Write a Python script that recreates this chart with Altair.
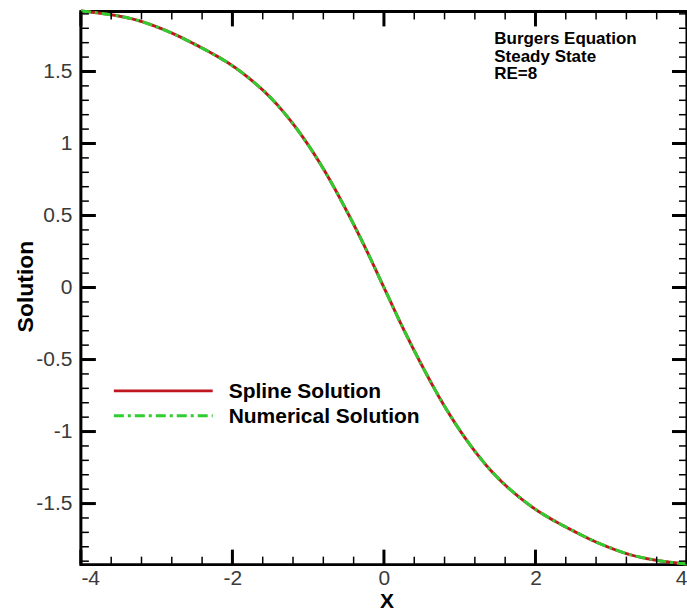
import altair as alt
import pandas as pd

# ---- data ----
x_vals = [-4.0, -3.75, -3.5, -3.25, -3.0, -2.75, -2.5, -2.25, -2.0, -1.75, -1.5,
          -1.25, -1.0, -0.75, -0.5, -0.25, 0.0, 0.25, 0.5, 0.75, 1.0, 1.25, 1.5,
          1.75, 2.0, 2.25, 2.5, 2.75, 3.0, 3.25, 3.5, 3.75, 4.0]
spline_y = [1.92, 1.905, 1.885, 1.855, 1.81, 1.755, 1.69, 1.62, 1.54, 1.44, 1.32,
            1.17, 0.99, 0.78, 0.54, 0.28, 0.0, -0.28, -0.54, -0.78, -0.99, -1.17, -1.32,
            -1.44, -1.54, -1.62, -1.69, -1.755, -1.81, -1.855, -1.885, -1.905, -1.92]
numerical_y = [1.92, 1.905, 1.885, 1.855, 1.81, 1.755, 1.69, 1.62, 1.54, 1.44, 1.32,
               1.17, 0.99, 0.78, 0.54, 0.28, 0.0, -0.28, -0.54, -0.78, -0.99, -1.17, -1.32,
               -1.44, -1.54, -1.62, -1.69, -1.755, -1.81, -1.855, -1.885, -1.905, -1.92]
series_names = ["Spline Solution", "Numerical Solution"]
series_colors = ["#c0171f", "#2fcd2f"]
series_dash = [[1, 0], [10, 4, 3, 4]]

x_major = [-4, -2, 0, 2, 4]
x_minor = [-3.6, -3.2, -2.8, -2.4, -1.6, -1.2, -0.8, -0.4,
           0.4, 0.8, 1.2, 1.6, 2.4, 2.8, 3.2, 3.6]
y_major = [-1.5, -1.0, -0.5, 0.0, 0.5, 1.0, 1.5]
y_minor = [round(v / 10, 1) for v in range(-19, 20) if v % 5 != 0]
annotation = ["Burgers Equation", "Steady State", "RE=8"]

# ---- tables ----
df = pd.DataFrame({
    "x": x_vals * 2,
    "y": spline_y + numerical_y,
    "series": [series_names[0]] * len(x_vals) + [series_names[1]] * len(x_vals),
})

W, H = 607, 554
FONT = "Liberation Sans"

xs = alt.Scale(domain=[-4, 4], nice=False, zero=False)
ys = alt.Scale(domain=[-1.924, 1.917], nice=False, zero=False)
cs = alt.Scale(domain=series_names, range=series_colors)

label_expr = "datum.value < 0 ? '-' + format(-datum.value, '~g') : format(datum.value, '~g')"

x_axis = alt.Axis(values=x_major, labelExpr=label_expr, ticks=False, domain=False,
                  grid=False, labelFontSize=21, labelColor="#3a3a3a", labelFont=FONT,
                  labelPadding=3, title="X", titleFont=FONT, titleFontSize=21,
                  titleFontWeight="bold", titleColor="black", titleX=306, titleY=43,
                  titleBaseline="alphabetic", titleAlign="center")
y_axis = alt.Axis(values=y_major, labelExpr=label_expr, ticks=False, domain=False,
                  grid=False, labelFontSize=21, labelColor="#3a3a3a", labelFont=FONT,
                  labelPadding=9, title="Solution", titleFont=FONT, titleFontSize=23,
                  titleFontWeight="bold", titleColor="black", titleX=-48, titleY=275,
                  titleBaseline="alphabetic", titleAlign="center", titleAngle=270)

def series_line(i):
    return alt.Chart(df).transform_filter(alt.datum.series == series_names[i]).mark_line(
        strokeWidth=3, interpolate="monotone", strokeDash=series_dash[i]
    ).encode(
        x=alt.X("x:Q", scale=xs, axis=x_axis, title="X"),
        y=alt.Y("y:Q", scale=ys, axis=y_axis, title="Solution"),
        color=alt.Color("series:N", scale=cs, legend=None),
    )

# ---- inward ticks on all four sides ----
def xticks(vals, length, width):
    c = alt.Chart(pd.DataFrame({"v": vals})).mark_rule(color="black", strokeWidth=width)
    enc = alt.X("v:Q", scale=xs, axis=x_axis, title="X")
    return [c.encode(x=enc, y=alt.value(H), y2=alt.value(H - length)),
            c.encode(x=enc, y=alt.value(0), y2=alt.value(length))]

def yticks(vals, length, width):
    c = alt.Chart(pd.DataFrame({"v": vals})).mark_rule(color="black", strokeWidth=width)
    enc = alt.Y("v:Q", scale=ys, axis=y_axis, title="Solution")
    return [c.encode(y=enc, x=alt.value(0), x2=alt.value(length)),
            c.encode(y=enc, x=alt.value(W), x2=alt.value(W - length))]

tick_layers = (xticks(x_major, 15, 3) + xticks(x_minor, 8, 1.5)
               + yticks(y_major, 15, 3) + yticks(y_minor, 8, 1.5))

# ---- legend (drawn in the plot, as in the reference) ----
legend_df = pd.DataFrame({"series": series_names})
legend_layers = []
for i, name in enumerate(series_names):
    sel = alt.Chart(legend_df).transform_filter(alt.datum.series == name)
    legend_layers.append(
        sel.mark_rule(strokeWidth=3, strokeDash=series_dash[i]).encode(
            x=alt.value(33), x2=alt.value(132), y=alt.value(380 + 25 * i),
            color=alt.Color("series:N", scale=cs, legend=None)))
    legend_layers.append(
        sel.mark_text(align="left", baseline="middle", fontSize=21, fontWeight="bold",
                      font=FONT, color="black").encode(
            x=alt.value(148), y=alt.value(381 + 25 * i), text="series:N"))

note = alt.Chart(pd.DataFrame({"t": ["\n".join(annotation)]})).mark_text(
    align="left", baseline="alphabetic", fontSize=17, fontWeight="bold", font=FONT,
    lineBreak="\n", lineHeight=17.5, color="black"
).encode(x=alt.value(414), y=alt.value(33), text="t:N")

chart = alt.layer(series_line(0), series_line(1), *tick_layers, *legend_layers, note).properties(
    width=W, height=H,
    autosize=alt.AutoSizeParams(type="none"),
    padding={"left": 81, "top": 11, "right": 0, "bottom": 47},
    background="white",
).configure_view(stroke="black", strokeWidth=3)

chart.save("out.html", embed_options={"renderer": "svg", "actions": False})
